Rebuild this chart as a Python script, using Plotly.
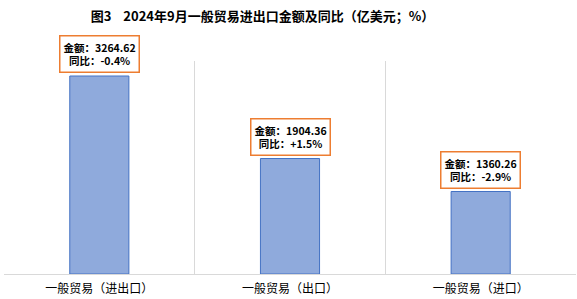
import plotly.graph_objects as go

categories = ["一般贸易（进出口）", "一般贸易（出口）", "一般贸易（进口）"]
amounts = [3264.62, 1904.36, 1360.26]
yoy = ["-0.4%", "+1.5%", "-2.9%"]

font_cjk = "Noto Sans CJK SC"

fig = go.Figure()
fig.add_trace(go.Bar(
    x=categories, y=amounts, width=0.31,
    marker=dict(color="#8faadc", line=dict(color="#4472c4", width=1)),
    hoverinfo="skip",
))

for c, a, p in zip(categories, amounts, yoy):
    fig.add_annotation(
        x=c, y=a, xref="x", yref="y",
        text=f"<b>金额：{a:.2f}<br>同比：{p}</b>",
        showarrow=False, yanchor="bottom", yshift=3,
        font=dict(family=font_cjk, size=10.5, color="#000000"),
        bgcolor="#ffffff", bordercolor="#ed7d31", borderwidth=1.5, borderpad=3,
        align="center",
    )

fig.update_layout(
    width=577, height=299,
    margin=dict(l=4, r=1, t=61, b=25),
    paper_bgcolor="#ffffff", plot_bgcolor="#ffffff",
    showlegend=False,
    title=dict(
        text="<b>图3    2024年9月一般贸易进出口金额及同比（亿美元；%）</b>",
        x=0.455, xanchor="center", y=0.945, yanchor="middle",
        font=dict(family=font_cjk, size=13, color="#000000"),
    ),
    bargap=0.69,
)
fig.update_xaxes(
    tickson="boundaries", showgrid=True, gridcolor="#d9d9d9", gridwidth=1,
    showline=True, linecolor="#d9d9d9", linewidth=1, ticks="",
    tickfont=dict(family=font_cjk, size=12, color="#000000"),
    ticklabelstandoff=4,
)
fig.update_yaxes(range=[0, 3512], visible=False, showgrid=False)

fig.write_html("out.html")
